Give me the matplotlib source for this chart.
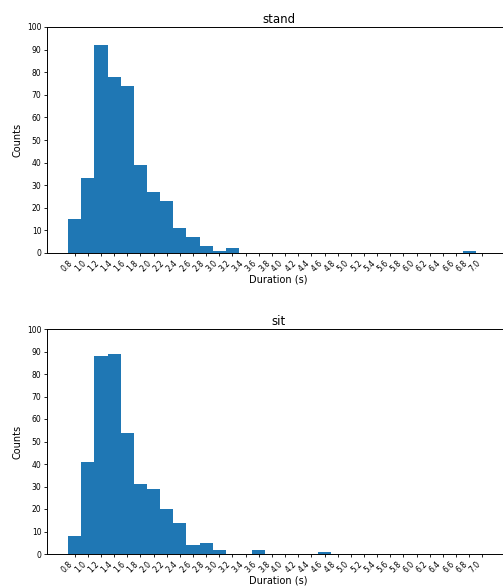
import numpy as np
import matplotlib.pyplot as plt

# histogram bins (s) and counts
bin_edges = np.round(np.arange(0.7, 7.11, 0.2), 1)
bin_centers = np.round((bin_edges[:-1] + bin_edges[1:]) / 2, 1)

stand_counts = [15, 33, 92, 78, 74, 39, 27, 23, 11, 7, 3, 1, 2,
                0, 0, 0, 0, 0, 0, 0, 0, 0, 0, 0, 0, 0, 0, 0, 0, 0, 1, 0]
sit_counts = [8, 41, 88, 89, 54, 31, 29, 20, 14, 4, 5, 2, 0,
              0, 2, 0, 0, 0, 0, 1, 0, 0, 0, 0, 0, 0, 0, 0, 0, 0, 0, 0]

tick_vals = np.round(np.arange(0.8, 7.01, 0.2), 1)
tick_labels = [f"{v:.1f}" for v in tick_vals]

titles = ['stand', 'sit']
all_counts = [stand_counts, sit_counts]

W, H = 503, 586
fig = plt.figure(figsize=(W / 100, H / 100), dpi=100)

# axes boxes in pixels: left, top, right, bottom (right edge falls off the crop)
boxes = [(47, 27, 510, 253), (47, 329, 510, 554)]

for (l, t, r, b), title, counts in zip(boxes, titles, all_counts):
    ax = fig.add_axes([l / W, 1 - b / H, (r - l) / W, (b - t) / H])
    ax.hist(bin_centers, bins=bin_edges, weights=counts, color='#1f77b4')
    ax.set_ylim(0, 100)
    ax.set_yticks(np.arange(0, 101, 10))
    ax.set_xticks(tick_vals)
    ax.set_xticklabels(tick_labels, rotation=45, ha='right')
    ax.tick_params(labelsize=5.5, length=2.5, width=0.6, pad=1.5)
    for s in ax.spines.values():
        s.set_linewidth(0.7)
    ax.set_title(title, fontsize=8.5, pad=3)
    ax.set_ylabel('Counts', fontsize=7, labelpad=3)
    ax.set_xlabel('Duration (s)', fontsize=7, labelpad=1)

fig.savefig('out.png', dpi=100)
